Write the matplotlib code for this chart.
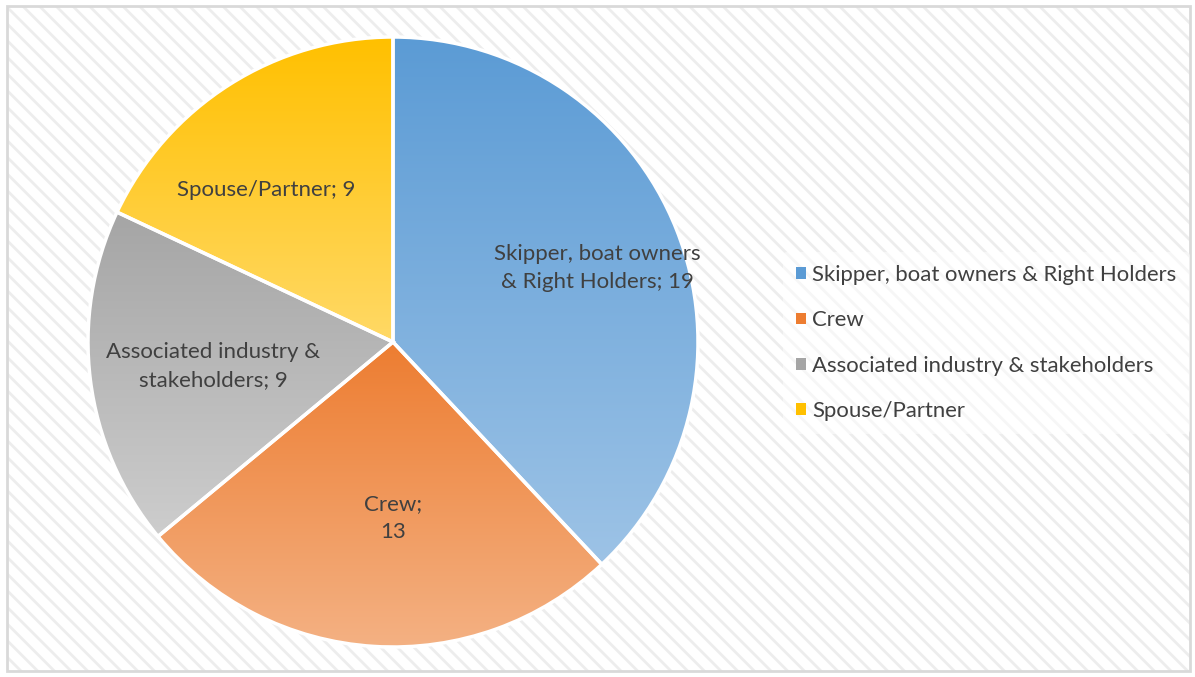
import numpy as np
import matplotlib
matplotlib.use('Agg')
import matplotlib.pyplot as plt
from matplotlib.patches import Rectangle
from matplotlib.colors import LinearSegmentedColormap

plt.rcParams['font.family'] = ['Lato', 'DejaVu Sans']
plt.rcParams['hatch.linewidth'] = 2.0

# 數據
categories = ['Skipper, boat owners & Right Holders', 'Crew',
              'Associated industry & stakeholders', 'Spouse/Partner']
slice_labels = ['Skipper, boat owners\n& Right Holders; 19', 'Crew;\n13',
                'Associated industry &\nstakeholders; 9', 'Spouse/Partner; 9']
counts = [19, 13, 9, 9]
top_colors = ['#5B9BD5', '#ED7D31', '#A5A5A5', '#FFC000']
bottom_colors = ['#9DC3E6', '#F4B183', '#CDCDCD', '#FFD966']

W, H = 1195, 677
fig = plt.figure(figsize=(W / 100, H / 100), dpi=100)

# 背景斜線紋理與外框
bg = fig.add_axes([0, 0, 1, 1])
bg.set_xlim(0, W)
bg.set_ylim(H, 0)
bg.axis('off')
bg.add_patch(Rectangle((7, 6), 1183, 665, facecolor='white', edgecolor='#ededed',
                       linewidth=0, hatch='\\\\'))
bg.add_patch(Rectangle((7, 6), 1183, 665, facecolor='none', edgecolor='#d9d9d9',
                       linewidth=2))

# 圓餅圖
cx, cy, r = 393, 342, 305
ax = fig.add_axes([(cx - r) / W, (H - cy - r) / H, 2 * r / W, 2 * r / H])
ax.set_aspect('equal')
wedges, _ = ax.pie(counts, startangle=90, counterclock=False, radius=1,
                   colors=top_colors,
                   wedgeprops=dict(edgecolor='white', linewidth=2.5))

# 每片加上垂直漸層
for w, c0, c1 in zip(wedges, top_colors, bottom_colors):
    ext = w.get_path().get_extents(w.get_patch_transform())
    cmap = LinearSegmentedColormap.from_list('g', [c1, c0])
    grad = np.linspace(0, 1, 256).reshape(-1, 1)
    im = ax.imshow(grad, cmap=cmap, aspect='auto', origin='lower',
                   extent=[ext.x0, ext.x1, ext.y0, ext.y1], zorder=1)
    im.set_clip_path(w)
    w.set_facecolor('none')
    w.set_zorder(2)
ax.set_xlim(-1, 1)
ax.set_ylim(-1, 1)
ax.axis('off')

# 片內標籤
label_pos = [(597, 268), (393, 518), (213, 366), (266, 190)]
for (px, py), txt in zip(label_pos, slice_labels):
    fig.text(px / W, 1 - py / H, txt, ha='center', va='center',
             fontsize=16, color='#404040', linespacing=1.5)

# 圖例
handles = [Rectangle((0, 0), 1, 1, facecolor=c, edgecolor='none') for c in top_colors]
leg = fig.legend(handles, categories, loc='center left',
                 bbox_to_anchor=(772 / W, 1 - 343 / H), frameon=True,
                 fontsize=15.9, labelcolor='#404040', handlelength=0.42,
                 handleheight=0.42, handletextpad=0.3, labelspacing=1.15,
                 borderpad=0.6)
leg.get_frame().set_facecolor('white')
leg.get_frame().set_alpha(0.5)
leg.get_frame().set_edgecolor('none')

fig.savefig('out.png', dpi=100)
